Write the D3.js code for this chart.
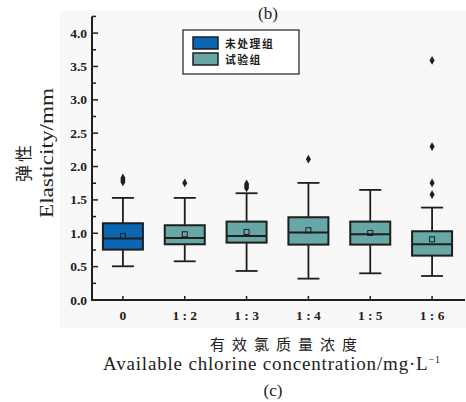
<!DOCTYPE html>
<html>
<head>
<meta charset="utf-8">
<script src="https://cdn.jsdelivr.net/npm/d3@7"></script>
<style>
  body { margin: 0; background: #fff; }
  svg { display: block; }
</style>
</head>
<body>
<svg width="466" height="402"></svg>
<script>
// data
const categories = ["0", "1 : 2", "1 : 3", "1 : 4", "1 : 5", "1 : 6"];
const groups = ["未处理组", "试验组", "试验组", "试验组", "试验组", "试验组"];
const whiskerLow = [0.505, 0.58, 0.435, 0.32, 0.40, 0.36];
const q1 = [0.755, 0.835, 0.86, 0.83, 0.83, 0.665];
const medians = [0.92, 0.93, 0.96, 1.01, 0.985, 0.835];
const q3 = [1.15, 1.12, 1.175, 1.24, 1.175, 1.03];
const whiskerHigh = [1.53, 1.53, 1.60, 1.755, 1.65, 1.385];
const means = [0.96, 0.985, 1.02, 1.045, 1.005, 0.91];
const outliers = [
  [1.77, 1.80, 1.83],
  [1.755],
  [1.68, 1.71, 1.74],
  [2.11],
  [],
  [1.58, 1.755, 2.30, 3.59]
];
const yTicks = [0, 0.5, 1.0, 1.5, 2.0, 2.5, 3.0, 3.5, 4.0];
const legendItems = ["未处理组", "试验组"];

const colors = { "未处理组": "#0b67b4", "试验组": "#67a7a5" };
const ink = "#1e1e1e";
const textInk = "#222";
const serif = "'Liberation Serif', 'DejaVu Serif', serif";
const cjk = "'Noto Sans CJK SC', sans-serif";

document.addEventListener("DOMContentLoaded", function () {
  const svg = d3.select("svg");

  // faint grey panel behind the plot
  svg.append("rect")
    .attr("x", 60).attr("y", 10)
    .attr("width", 406).attr("height", 318)
    .attr("fill", "#f8f8f8");

  const xScale = d3.scaleBand().domain(categories).range([92, 463]);
  const yScale = d3.scaleLinear().domain([0, 4.25]).range([300, 16.4]);
  const cx = (i) => xScale(categories[i]) + xScale.bandwidth() / 2;

  const boxW = 40, capW = 22;

  // boxes
  const box = svg.selectAll(".box")
    .data(categories)
    .enter()
    .append("g")
    .attr("class", "box");

  box.append("line")
    .attr("x1", (d, i) => cx(i)).attr("x2", (d, i) => cx(i))
    .attr("y1", (d, i) => yScale(whiskerHigh[i]))
    .attr("y2", (d, i) => yScale(q3[i]))
    .attr("stroke", ink).attr("stroke-width", 1.8);
  box.append("line")
    .attr("x1", (d, i) => cx(i)).attr("x2", (d, i) => cx(i))
    .attr("y1", (d, i) => yScale(q1[i]))
    .attr("y2", (d, i) => yScale(whiskerLow[i]))
    .attr("stroke", ink).attr("stroke-width", 1.8);
  box.append("line")
    .attr("x1", (d, i) => cx(i) - capW / 2).attr("x2", (d, i) => cx(i) + capW / 2)
    .attr("y1", (d, i) => yScale(whiskerHigh[i]))
    .attr("y2", (d, i) => yScale(whiskerHigh[i]))
    .attr("stroke", ink).attr("stroke-width", 1.8);
  box.append("line")
    .attr("x1", (d, i) => cx(i) - capW / 2).attr("x2", (d, i) => cx(i) + capW / 2)
    .attr("y1", (d, i) => yScale(whiskerLow[i]))
    .attr("y2", (d, i) => yScale(whiskerLow[i]))
    .attr("stroke", ink).attr("stroke-width", 1.8);

  box.append("rect")
    .attr("x", (d, i) => cx(i) - boxW / 2)
    .attr("y", (d, i) => yScale(q3[i]))
    .attr("width", boxW)
    .attr("height", (d, i) => yScale(q1[i]) - yScale(q3[i]))
    .attr("fill", (d, i) => colors[groups[i]])
    .attr("stroke", ink).attr("stroke-width", 2);

  box.append("line")
    .attr("x1", (d, i) => cx(i) - boxW / 2).attr("x2", (d, i) => cx(i) + boxW / 2)
    .attr("y1", (d, i) => yScale(medians[i]))
    .attr("y2", (d, i) => yScale(medians[i]))
    .attr("stroke", ink).attr("stroke-width", 2);

  box.append("rect")
    .attr("x", (d, i) => cx(i) - 2.5)
    .attr("y", (d, i) => yScale(means[i]) - 2.5)
    .attr("width", 5).attr("height", 5)
    .attr("fill", "none")
    .attr("stroke", ink).attr("stroke-width", 1);

  // outliers
  const diamond = d3.symbol().type(d3.symbolDiamond).size(22);
  outliers.forEach((pts, i) => {
    svg.selectAll(".out" + i)
      .data(pts)
      .enter()
      .append("path")
      .attr("class", "out" + i)
      .attr("d", diamond)
      .attr("transform", (d) => `translate(${cx(i)},${yScale(d)})`)
      .attr("fill", ink);
  });

  // y axis
  const yAxis = svg.append("g").attr("transform", "translate(92,0)");
  yAxis.append("line")
    .attr("x1", 0).attr("x2", 0)
    .attr("y1", yScale(4.25)).attr("y2", yScale(0))
    .attr("stroke", ink).attr("stroke-width", 2);
  const minor = d3.range(0.25, 4.3, 0.5);
  yAxis.selectAll(".minor").data(minor).enter().append("line")
    .attr("x1", 0).attr("x2", 4)
    .attr("y1", (d) => yScale(d)).attr("y2", (d) => yScale(d))
    .attr("stroke", ink).attr("stroke-width", 1.5);
  yAxis.selectAll(".major").data(yTicks).enter().append("line")
    .attr("x1", 0).attr("x2", 6)
    .attr("y1", (d) => yScale(d)).attr("y2", (d) => yScale(d))
    .attr("stroke", ink).attr("stroke-width", 1.5);
  yAxis.selectAll(".ylab").data(yTicks).enter().append("text")
    .attr("x", -5)
    .attr("y", (d) => yScale(d) + 4.5)
    .attr("text-anchor", "end")
    .style("font-family", serif).style("font-weight", "bold")
    .style("font-size", "13.5px").attr("fill", textInk)
    .text(d3.format(".1f"));

  // x axis
  svg.append("line")
    .attr("x1", 91).attr("x2", 465)
    .attr("y1", 300).attr("y2", 300)
    .attr("stroke", ink).attr("stroke-width", 2);
  svg.selectAll(".xtick").data(categories).enter().append("line")
    .attr("x1", (d, i) => cx(i)).attr("x2", (d, i) => cx(i))
    .attr("y1", 300).attr("y2", 296)
    .attr("stroke", ink).attr("stroke-width", 1.5);
  svg.selectAll(".xlab").data(categories).enter().append("text")
    .attr("x", (d, i) => cx(i))
    .attr("y", 320)
    .attr("text-anchor", "middle")
    .style("font-family", serif).style("font-weight", "bold")
    .style("font-size", "13.5px").attr("fill", textInk)
    .text((d) => d);

  // legend
  const legend = svg.append("g").attr("transform", "translate(183,30)");
  legend.append("rect")
    .attr("width", 116).attr("height", 44)
    .attr("fill", "#fff").attr("stroke", ink).attr("stroke-width", 1.2);
  legendItems.forEach((name, i) => {
    legend.append("rect")
      .attr("x", 10).attr("y", 7 + i * 16)
      .attr("width", 25).attr("height", 12)
      .attr("fill", colors[name])
      .attr("stroke", ink).attr("stroke-width", 1.5);
    legend.append("text")
      .attr("x", 42).attr("y", 17.5 + i * 16)
      .style("font-family", cjk).style("font-weight", "bold")
      .style("font-size", "10.8px").style("letter-spacing", "1.5px")
      .attr("fill", textInk)
      .text(name);
  });

  // titles
  svg.append("text")
    .attr("x", 268).attr("y", 19)
    .attr("text-anchor", "middle")
    .style("font-family", serif).style("font-size", "17px").attr("fill", textInk)
    .text("(b)");
  svg.append("text")
    .attr("transform", "translate(30,162) rotate(-90)")
    .attr("text-anchor", "middle")
    .style("font-family", cjk).style("font-size", "17px")
    .style("letter-spacing", "3px").attr("fill", textInk)
    .text("弹性");
  svg.append("text")
    .attr("transform", "translate(53,218) rotate(-90)")
    .attr("textLength", 130).attr("lengthAdjust", "spacingAndGlyphs")
    .style("font-family", serif).style("font-size", "18px").attr("fill", textInk)
    .text("Elasticity/mm");
  svg.append("text")
    .attr("x", 210).attr("y", 350)
    .attr("textLength", 147).attr("lengthAdjust", "spacing")
    .style("font-family", cjk).style("font-size", "15px")
    .attr("fill", textInk)
    .text("有效氯质量浓度");
  const avail = svg.append("text")
    .attr("x", 103).attr("y", 370)
    .attr("textLength", 337).attr("lengthAdjust", "spacing")
    .style("font-family", serif).style("font-size", "19px").attr("fill", textInk);
  avail.append("tspan").text("Available chlorine concentration/mg·L");
  avail.append("tspan").attr("dy", -7).style("font-size", "10px").text("−1");
  svg.append("text")
    .attr("x", 273).attr("y", 396)
    .attr("text-anchor", "middle")
    .style("font-family", serif).style("font-size", "17px").attr("fill", textInk)
    .text("(c)");
});
</script>
</body>
</html>
